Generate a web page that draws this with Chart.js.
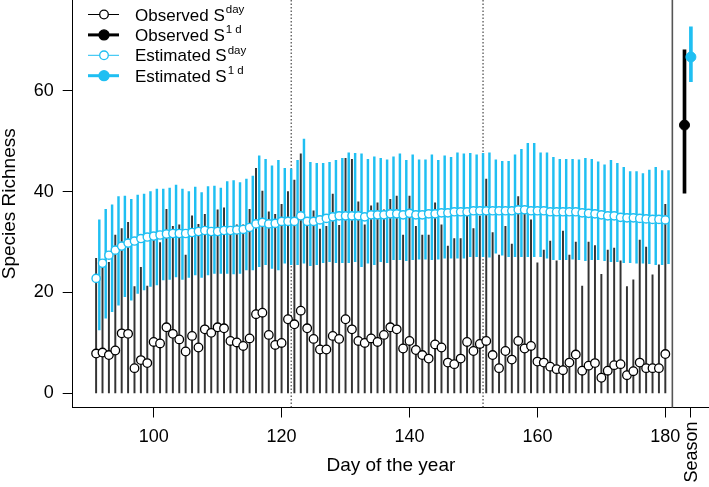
<!DOCTYPE html>
<html>
<head>
<meta charset="utf-8">
<script src="https://cdn.jsdelivr.net/npm/chart.js@4.4.0/dist/chart.umd.min.js"></script>
<style>
  html, body { margin: 0; padding: 0; background: #fff; }
</style>
</head>
<body>
<canvas id="myChart" width="709" height="487"></canvas>
<script>
// day of the year, 91 .. 180
var days = [];
for (var d = 91; d <= 180; d++) days.push(d);

// observed daily richness and upper end of its range (range starts at 0)
var obsS = [7.9, 8.1, 7.6, 8.5, 11.9, 11.8, 5.0, 6.6, 6.0, 10.2,
            9.9, 13.1, 11.8, 10.7, 8.3, 11.4, 9.1, 12.7, 12.0, 13.1,
            12.9, 10.4, 10.1, 9.4, 10.9, 15.7, 16.0, 11.6, 9.6, 10.0,
            14.7, 13.7, 16.4, 12.9, 10.8, 8.7, 8.7, 11.4, 10.8, 14.7,
            12.7, 10.4, 10.0, 10.9, 10.2, 11.6, 13.1, 12.7, 8.9, 10.4,
            8.6, 7.6, 6.9, 9.7, 9.1, 6.1, 5.8, 6.9, 10.2, 8.4,
            9.8, 10.4, 7.6, 5.0, 8.4, 6.7, 10.4, 8.9, 9.4, 6.3,
            6.1, 5.3, 4.8, 4.6, 6.1, 7.7, 4.5, 5.5, 6.0, 3.1,
            4.5, 5.6, 5.8, 3.6, 4.4, 6.1, 5.0, 5.0, 5.0, 7.8];
var obsUp = [26.8, 26.3, 26.0, 31.4, 32.7, 33.9, 21.2, 25.0, 21.3, 30.4,
             29.9, 36.5, 33.1, 33.4, 27.4, 35.2, 33.5, 35.5, 32.7, 36.4,
             36.8, 32.4, 33.4, 33.4, 36.5, 44.6, 40.1, 36.0, 35.5, 37.5,
             40.0, 42.3, 47.5, 34.5, 36.2, 32.6, 33.1, 39.5, 33.3, 46.6,
             46.4, 38.0, 33.4, 37.2, 37.8, 36.4, 38.5, 39.1, 31.4, 39.1,
             33.1, 31.4, 31.4, 37.8, 33.4, 29.2, 30.7, 30.7, 35.2, 32.7,
             35.2, 42.5, 31.9, 27.4, 33.1, 29.6, 39.0, 35.8, 34.4, 25.9,
             28.4, 30.2, 26.3, 32.2, 27.4, 30.0, 21.3, 30.0, 29.3, 23.6,
             28.4, 28.8, 26.3, 21.2, 22.5, 30.4, 29.0, 23.5, 25.5, 37.5];

// estimated daily richness with lower / upper bounds
var estS = [22.8, 25.8, 27.4, 28.4, 29.2, 29.8, 30.2, 30.7, 31.0, 31.2,
            31.4, 31.6, 31.7, 31.7, 31.7, 31.9, 32.1, 32.3, 32.1, 32.1,
            32.3, 32.3, 32.4, 32.5, 32.9, 33.6, 33.9, 33.6, 33.7, 34.1,
            34.1, 34.1, 35.2, 34.1, 34.1, 34.4, 34.7, 35.0, 35.2, 35.2,
            35.2, 35.2, 35.0, 35.4, 35.4, 35.4, 35.6, 35.6, 35.4, 35.7,
            35.4, 35.4, 35.6, 35.6, 35.8, 35.8, 36.0, 36.0, 36.0, 36.2,
            36.2, 36.2, 36.2, 36.2, 36.2, 36.2, 36.4, 36.4, 36.2, 36.2,
            36.2, 36.0, 36.0, 36.0, 36.0, 36.0, 35.8, 35.7, 35.6, 35.4,
            35.2, 35.2, 34.9, 34.8, 34.8, 34.7, 34.6, 34.5, 34.5, 34.4];
var estLo = [12.6, 14.9, 16.2, 17.5, 19.2, 18.5, 19.8, 20.5, 21.2, 21.5,
             22.5, 22.6, 23.1, 22.6, 23.0, 23.5, 23.0, 23.5, 23.8, 23.8,
             23.8, 23.7, 23.8, 24.5, 24.5, 25.1, 25.5, 24.8, 24.5, 25.8,
             25.5, 25.5, 25.8, 25.3, 25.5, 25.9, 26.1, 25.9, 25.9, 25.9,
             26.1, 25.1, 25.8, 25.5, 26.1, 25.9, 26.5, 26.5, 26.3, 26.5,
             26.6, 26.6, 26.5, 26.6, 26.8, 26.8, 26.8, 26.8, 27.1, 27.1,
             27.1, 27.0, 27.8, 27.4, 27.1, 27.1, 27.1, 27.1, 27.1, 27.1,
             26.8, 26.5, 26.5, 26.5, 26.6, 26.5, 26.3, 26.5, 26.5, 26.3,
             26.1, 26.1, 25.9, 25.9, 25.8, 25.8, 25.7, 25.5, 25.5, 25.7];
var estUp = [34.4, 36.5, 37.4, 39.0, 39.1, 38.5, 39.3, 39.5, 40.0, 40.5,
             40.5, 40.7, 41.3, 40.5, 40.0, 40.9, 39.8, 41.0, 41.1, 40.7,
             42.0, 42.2, 41.8, 42.5, 43.1, 47.1, 46.4, 45.1, 46.2, 44.6,
             44.5, 46.2, 50.4, 45.8, 45.6, 45.6, 45.8, 46.2, 46.6, 47.7,
             47.6, 47.5, 46.4, 46.9, 46.6, 46.3, 46.9, 47.5, 46.2, 47.3,
             46.3, 46.3, 47.3, 46.2, 47.1, 46.8, 47.7, 47.5, 47.6, 47.3,
             47.6, 47.7, 46.3, 46.0, 46.0, 47.3, 48.4, 49.6, 49.6, 47.7,
             47.7, 46.8, 46.4, 46.4, 46.4, 46.3, 46.6, 46.4, 45.9, 45.3,
             46.2, 45.6, 44.8, 44.0, 44.0, 43.6, 44.3, 44.8, 44.2, 44.2];

// whole season: [value, lower, upper]
var seasonObs = [53.2, 39.7, 68.1];
var seasonEst = [66.7, 61.8, 72.7];

var xTicks = [100, 120, 140, 160, 180];
var yTicks = [0, 20, 40, 60];
var seasonX = 184;
var periodBreaks = [121.5, 151.5];
var seasonBreak = 181.1;

var BLUE = '#1fbff2';
var FONT = '"Liberation Sans", Arial, sans-serif';

var decor = {
  id: 'decor',
  beforeDatasetsDraw: function(chart) {
    var c = chart.ctx, a = chart.chartArea, xs = chart.scales.x;
    c.save();
    c.strokeStyle = '#222';
    c.lineWidth = 1;
    c.setLineDash([1.5, 2]);
    periodBreaks.forEach(function(v) {
      var px = xs.getPixelForValue(v);
      c.beginPath(); c.moveTo(px, a.top); c.lineTo(px, a.bottom); c.stroke();
    });
    c.setLineDash([]);
    c.strokeStyle = '#555';
    c.lineWidth = 1.6;
    var sx = xs.getPixelForValue(seasonBreak);
    c.beginPath(); c.moveTo(sx, a.top); c.lineTo(sx, a.bottom); c.stroke();
    c.restore();
  },
  afterDraw: function(chart) {
    var c = chart.ctx, a = chart.chartArea, xs = chart.scales.x;
    c.save();
    // Season label, rotated
    c.fillStyle = '#000';
    c.font = '18px ' + FONT;
    c.translate(xs.getPixelForValue(seasonX) + 1, a.bottom + 14);
    c.rotate(-Math.PI / 2);
    c.textAlign = 'right';
    c.textBaseline = 'middle';
    c.fillText('Season', 0, 0);
    c.restore();

    // legend
    var rows = [
      {txt: 'Observed S', sup: 'day', col: '#000', lw: 1, fill: false},
      {txt: 'Observed S', sup: '1 d', col: '#000', lw: 3, fill: true},
      {txt: 'Estimated S', sup: 'day', col: BLUE, lw: 1, fill: false},
      {txt: 'Estimated S', sup: '1 d', col: BLUE, lw: 3, fill: true}
    ];
    c.save();
    rows.forEach(function(r, i) {
      var base = 20.5 + i * 20.4;
      var ly = base - 6;
      c.strokeStyle = r.col;
      c.lineWidth = r.lw;
      c.beginPath(); c.moveTo(88, ly); c.lineTo(119, ly); c.stroke();
      c.beginPath(); c.arc(104, ly, r.fill ? 5 : 4.3, 0, Math.PI * 2);
      c.fillStyle = r.fill ? r.col : '#fff';
      c.fill();
      c.lineWidth = 1.3;
      c.stroke();
      c.fillStyle = '#000';
      c.textAlign = 'left';
      c.textBaseline = 'alphabetic';
      c.font = '17px ' + FONT;
      c.fillText(r.txt, 135, base);
      var w = c.measureText(r.txt).width;
      c.font = '11.5px ' + FONT;
      c.fillText(r.sup, 135 + w + 1, base - 7.5);
    });
    c.restore();
  }
};

var ctx = document.getElementById('myChart').getContext('2d');
var chart = new Chart(ctx, {
  type: 'bar',
  data: {
    datasets: [
      {
        type: 'scatter',
        data: days.map(function(d, i) { return {x: d, y: obsS[i]}; }),
        pointRadius: 4.3, pointBorderWidth: 1.3,
        pointBackgroundColor: '#fff', pointBorderColor: '#000',
        order: 1
      },
      {
        type: 'scatter',
        data: [{x: seasonX - 1, y: seasonObs[0]}],
        pointRadius: 5, pointBorderWidth: 1,
        pointBackgroundColor: '#000', pointBorderColor: '#000',
        order: 1
      },
      {
        type: 'scatter',
        data: [{x: seasonX, y: seasonEst[0]}],
        pointRadius: 5, pointBorderWidth: 1,
        pointBackgroundColor: BLUE, pointBorderColor: BLUE,
        order: 1
      },
      {
        type: 'scatter',
        data: days.map(function(d, i) { return {x: d, y: estS[i]}; }),
        pointRadius: 4.1, pointBorderWidth: 1.4,
        pointBackgroundColor: '#fff', pointBorderColor: BLUE,
        order: 2
      },
      {
        data: days.map(function(d, i) { return {x: d + 0.5, y: [estLo[i], estUp[i]]}; }),
        backgroundColor: BLUE, barThickness: 1.8, grouped: false,
        order: 3
      },
      {
        data: days.map(function(d, i) { return {x: d, y: [0, obsUp[i]]}; }),
        backgroundColor: '#333', barThickness: 1.3, grouped: false,
        order: 4
      },
      {
        data: [{x: seasonX - 1, y: [seasonObs[1], seasonObs[2]]}],
        backgroundColor: '#000', barThickness: 3, grouped: false,
        order: 4
      },
      {
        data: [{x: seasonX, y: [seasonEst[1], seasonEst[2]]}],
        backgroundColor: BLUE, barThickness: 3, grouped: false,
        order: 4
      }
    ]
  },
  options: {
    responsive: false,
    animation: false,
    events: [],
    devicePixelRatio: 1,
    layout: { padding: 0, autoPadding: false },
    plugins: { legend: { display: false }, tooltip: { enabled: false } },
    scales: {
      x: {
        type: 'linear', min: 87.34, max: 186.83, offset: false,
        grid: { display: true, drawOnChartArea: false, drawTicks: true, tickLength: 10, color: '#000', offset: false },
        border: { display: true, color: '#000', width: 1 },
        ticks: {
          color: '#000', font: { family: FONT, size: 18 }, padding: 9,
          maxRotation: 0, minRotation: 0, autoSkip: false,
          callback: function(v) { return v === seasonX ? '' : String(v); }
        },
        afterBuildTicks: function(s) { s.ticks = xTicks.concat([seasonX]).map(function(v) { return {value: v}; }); },
        afterFit: function(s) { s.height = 79.5; s.paddingLeft = 0; s.paddingRight = 0; },
        title: { display: true, text: 'Day of the year', color: '#000',
                 font: { family: FONT, size: 19, lineHeight: 1 }, padding: { top: 0, bottom: 11.5 } }
      },
      y: {
        type: 'linear', min: -2.8, max: 78,
        grid: { display: true, drawOnChartArea: false, drawTicks: true, tickLength: 10, color: '#000' },
        border: { display: true, color: '#000', width: 1 },
        ticks: { color: '#000', font: { family: FONT, size: 18 }, padding: 9 },
        afterBuildTicks: function(s) { s.ticks = yTicks.map(function(v) { return {value: v}; }); },
        afterFit: function(s) { s.width = 72.7; s.paddingTop = 0; s.paddingBottom = 0; },
        title: { display: true, text: 'Species Richness', color: '#000',
                 font: { family: FONT, size: 19, lineHeight: 1 }, padding: { top: 0, bottom: 0 } }
      }
    }
  },
  plugins: [decor]
});
</script>
</body>
</html>
